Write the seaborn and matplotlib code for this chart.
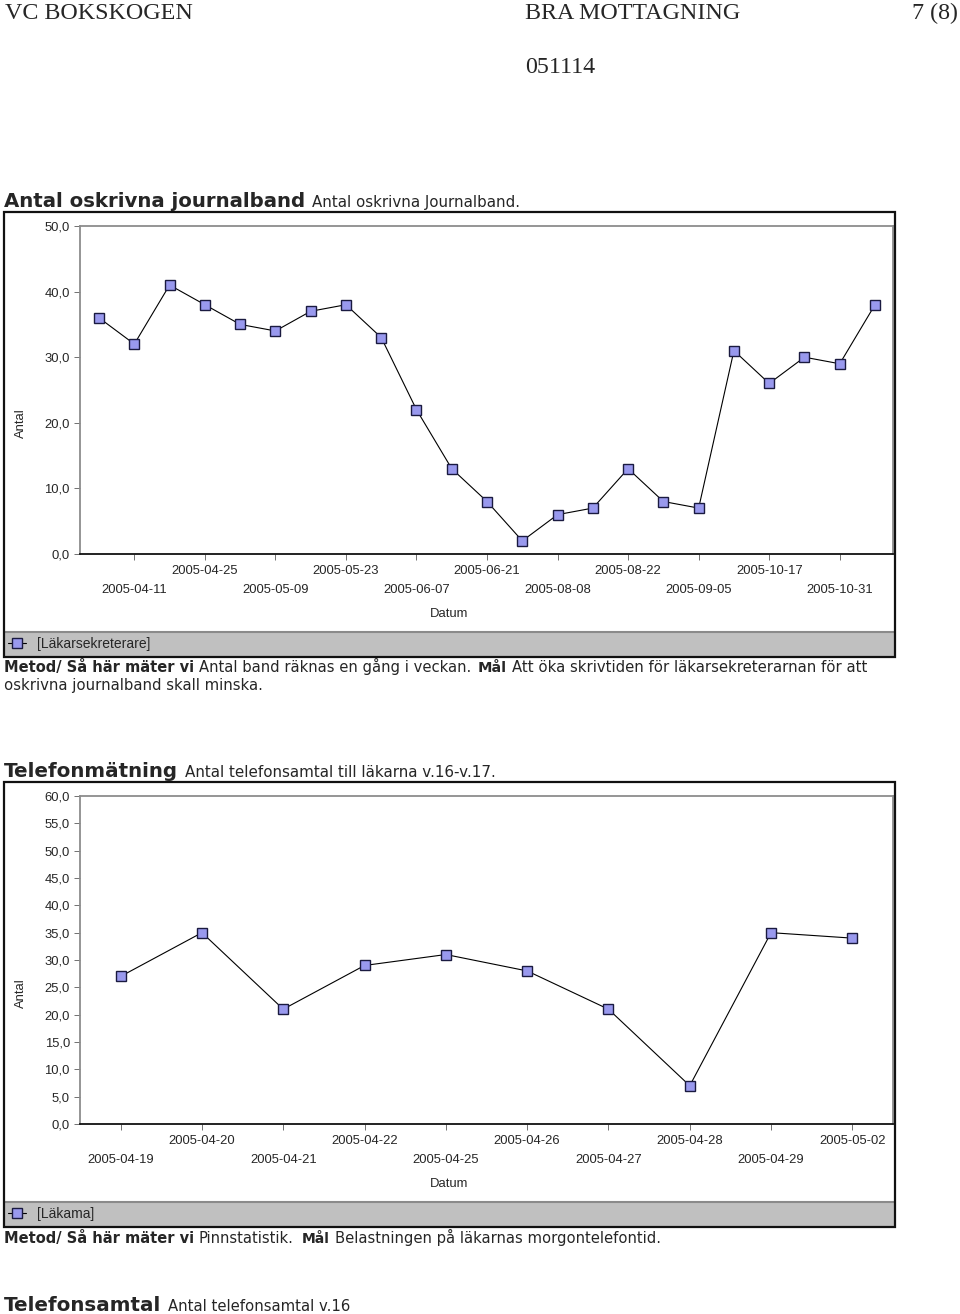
import numpy as np
import pandas as pd
import matplotlib
matplotlib.use("Agg")
import matplotlib.pyplot as plt
import matplotlib.patches as mpatches
import matplotlib.lines as mlines
from matplotlib.ticker import FuncFormatter, FixedLocator
import seaborn as sns

# ---------------- data ----------------
journal_values = [36, 32, 41, 38, 35, 34, 37, 38, 33, 22, 13, 8, 2, 6, 7, 13, 8, 7, 31, 26, 30, 29, 38]
journal_tick_labels = ['2005-04-11', '2005-04-25', '2005-05-09', '2005-05-23', '2005-06-07',
                       '2005-06-21', '2005-08-08', '2005-08-22', '2005-09-05', '2005-10-17',
                       '2005-10-31']
journal_series = '[Läkarsekreterare]'

phone_dates = ['2005-04-19', '2005-04-20', '2005-04-21', '2005-04-22', '2005-04-25',
               '2005-04-26', '2005-04-27', '2005-04-28', '2005-04-29', '2005-05-02']
phone_values = [27, 35, 21, 29, 31, 28, 21, 7, 35, 34]
phone_series = '[Läkama]'

# ---------------- setup ----------------
sns.set_style("white")
plt.rcParams['font.family'] = ['DejaVu Sans']
W, H = 960, 1314
fig = plt.figure(figsize=(W / 100, H / 100), dpi=100)
renderer = fig.canvas.get_renderer()


def fx(x):
    return x / W


def fy(y):
    return 1 - y / H


def fit_text(x0, x1, yb, s, weight='normal', family='DejaVu Sans', size0=10):
    t = fig.text(fx(x0), fy(yb), s, fontsize=size0, fontweight=weight,
                 family=family, ha='left', va='baseline')
    bb = t.get_window_extent(renderer=renderer)
    size = size0 * (x1 - x0) / bb.width
    t.set_fontsize(size)
    return size


# header
hs = fit_text(5, 193, 19, 'VC BOKSKOGEN', family='Liberation Serif', size0=14)
fig.text(fx(525), fy(19), 'BRA MOTTAGNING', family='Liberation Serif', fontsize=hs,
         ha='left', va='baseline')
fig.text(fx(958), fy(19), '7 (8)', family='Liberation Serif', fontsize=hs,
         ha='right', va='baseline')
fig.text(fx(525), fy(73), '051114', family='Liberation Serif', fontsize=hs,
         ha='left', va='baseline')

# section 1 heading
fit_text(4, 304, 207, 'Antal oskrivna journalband', weight='bold', size0=12)
fit_text(312, 519, 207, 'Antal oskrivna Journalband.', size0=10)

# section 1 method text
fit_text(4, 193, 672, 'Metod/ Så här mäter vi', weight='bold', size0=10)
fit_text(199, 470, 672, 'Antal band räknas en gång i veckan.', size0=10)
fit_text(478, 507, 672, 'Mål', weight='bold', size0=10)
fit_text(512, 868, 672, 'Att öka skrivtiden för läkarsekreterarnan för att', size0=10)
fit_text(4, 263, 690, 'oskrivna journalband skall minska.', size0=10)

# section 2 heading
fit_text(4, 177, 777, 'Telefonmätning', weight='bold', size0=12)
fit_text(185, 497, 777, 'Antal telefonsamtal till läkarna v.16-v.17.', size0=10)

# section 2 method text
fit_text(4, 193, 1243, 'Metod/ Så här mäter vi', weight='bold', size0=10)
fit_text(199, 294, 1243, 'Pinnstatistik.', size0=10)
fit_text(302, 330, 1243, 'Mål', weight='bold', size0=10)
fit_text(335, 660, 1243, 'Belastningen på läkarnas morgontelefontid.', size0=10)

# section 3 heading (cut at bottom)
fit_text(4, 160, 1311, 'Telefonsamtal', weight='bold', size0=12)
fit_text(168, 350, 1311, 'Antal telefonsamtal v.16', size0=10)

CH_FONT = 'Liberation Sans'
CH_SIZE = 9.4
MFC = '#9999ee'
MEC = '#1a1a40'


def comma_fmt(v, p):
    return f"{v:.1f}".replace('.', ',')


def draw_chart(frame_top, values, upper_pos, upper_labels, lower_pos, lower_labels,
               ymax, ystep, xlim, series_label):
    frame_bottom = frame_top + 445
    plot_top = frame_top + 14
    plot_bottom = frame_top + 342
    band_top = frame_top + 420

    # legend band
    fig.add_artist(mpatches.Rectangle((fx(5), fy(frame_bottom)), 889 / W, (frame_bottom - band_top) / H,
                                      transform=fig.transFigure, facecolor='#c0c0c0',
                                      edgecolor='none', zorder=-1))
    fig.add_artist(mlines.Line2D([fx(5), fx(894)], [fy(band_top), fy(band_top)],
                                 transform=fig.transFigure, color='#8a8a8a', lw=1.5, zorder=-1))
    # outer frame
    fig.add_artist(mpatches.Rectangle((fx(4), fy(frame_bottom)), 891 / W, 445 / H,
                                      transform=fig.transFigure, fill=False,
                                      edgecolor='#111111', lw=1.6, zorder=3))

    ax = fig.add_axes([fx(80), fy(plot_bottom), 813 / W, (plot_bottom - plot_top) / H])
    df = pd.DataFrame({'x': np.arange(len(values)), 'y': values})
    sns.lineplot(data=df, x='x', y='y', ax=ax, color='black', lw=0.8,
                 marker='s', markersize=7.3, markerfacecolor=MFC, markeredgecolor=MEC,
                 markeredgewidth=1.0, label=series_label)

    ax.set_xlim(*xlim)
    ax.set_ylim(0, ymax)
    ax.yaxis.set_major_locator(FixedLocator(np.arange(0, ymax + 0.1, ystep)))
    ax.yaxis.set_major_formatter(FuncFormatter(comma_fmt))

    ax.xaxis.set_major_locator(FixedLocator(upper_pos))
    ax.xaxis.set_minor_locator(FixedLocator(lower_pos))
    ax.set_xticklabels(upper_labels)
    ax.set_xticklabels(lower_labels, minor=True)

    for sp in ['top', 'left', 'right']:
        ax.spines[sp].set_color('#8c8c8c')
        ax.spines[sp].set_linewidth(1.3)
    ax.spines['bottom'].set_color('#111111')
    ax.spines['bottom'].set_linewidth(1.3)

    ax.tick_params(axis='both', which='both', direction='out', length=4.3, width=0.7,
                   color='#707070', labelsize=CH_SIZE)
    ax.tick_params(axis='x', which='major', pad=3.5, bottom=True)
    ax.tick_params(axis='x', which='minor', pad=17.5, bottom=True)
    ax.tick_params(axis='y', which='major', left=True, pad=3)
    for lab in ax.get_xticklabels(which='both') + ax.get_yticklabels():
        lab.set_family(CH_FONT)

    ax.set_xlabel('Datum', family=CH_FONT, fontsize=CH_SIZE, va='center')
    ax.xaxis.set_label_coords((449 - 80) / 813, -(614 - 554) / 328)
    ax.set_ylabel('Antal', family=CH_FONT, fontsize=CH_SIZE, va='center')
    ax.yaxis.set_label_coords((21 - 80) / 813, 0.398)
    ax.grid(False)

    leg = ax.legend(loc='center left', bbox_to_anchor=(fx(8), fy(frame_top + 432)),
                    bbox_transform=fig.transFigure, frameon=False, borderpad=0,
                    borderaxespad=0, handlelength=1.3, handletextpad=0.8,
                    prop={'family': CH_FONT, 'size': CH_SIZE + 0.6})
    for h in leg.legend_handles:
        h.set_markersize(7)
    return ax


# chart 1
n1 = len(journal_values)
pos1 = list(range(1, n1, 2))
draw_chart(212, journal_values, pos1[1::2], journal_tick_labels[1::2],
           pos1[0::2], journal_tick_labels[0::2],
           50, 10, (-0.54, n1 - 0.49), journal_series)

# chart 2
n2 = len(phone_values)
pos2 = list(range(n2))
draw_chart(782, phone_values, pos2[1::2], phone_dates[1::2], pos2[0::2], phone_dates[0::2],
           60, 5, (-0.5, n2 - 0.5), phone_series)

fig.savefig('out.png', dpi=100)
